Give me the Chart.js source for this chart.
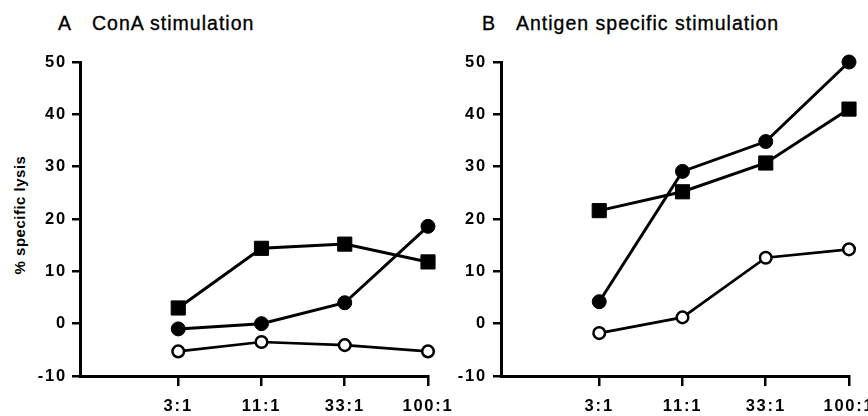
<!DOCTYPE html>
<html>
<head>
<meta charset="utf-8">
<script src="https://cdn.jsdelivr.net/npm/chart.js@4/dist/chart.umd.min.js"></script>
<style>
  body { margin: 0; background: #fff; width: 868px; height: 416px; position: relative; overflow: hidden;
         font-family: "Liberation Sans", Arial, sans-serif; }
  canvas { position: absolute; top: 0; }
  .ttl { position: absolute; top: 14px; font-size: 19.5px; line-height: 1; letter-spacing: 1px; color: #000;
         white-space: nowrap; -webkit-text-stroke: 0.35px #000; }
  .ytitle { position: absolute; left: 19px; top: 215px; font-size: 15px; font-weight: bold; letter-spacing: 0.5px;
            line-height: 1; white-space: nowrap; transform: translate(-50%, -50%) rotate(-90deg); }
</style>
</head>
<body>
<span class="ttl" style="left:58px">A</span>
<span class="ttl" style="left:92px">ConA stimulation</span>
<span class="ttl" style="left:482px">B</span>
<span class="ttl" style="left:516px">Antigen specific stimulation</span>
<span class="ytitle">% specific lysis</span>
<canvas id="chartConA" width="460" height="416" style="left:0"></canvas>
<canvas id="chartAntigen" width="428" height="416" style="left:440px"></canvas>
<script>
// effector:target ratios on the x axis
const ratios = ['3:1', '11:1', '33:1', '100:1'];
const yTickValues = [-10, 0, 10, 20, 30, 40, 50];

// A — ConA stimulation (% specific lysis)
const conaFilledCircle = [-1.0, 0.0, 4.0, 18.6];
const conaSquare       = [3.0, 14.4, 15.2, 11.8];
const conaOpenCircle   = [-5.3, -3.5, -4.1, -5.3];

// B — antigen specific stimulation
const agFilledCircle = [4.2, 29.1, 34.8, 50.0];
const agSquare       = [21.6, 25.2, 30.7, 41.0];
const agOpenCircle   = [-1.8, 1.2, 12.6, 14.2];

Chart.defaults.font.family = '"Liberation Sans", Arial, sans-serif';
Chart.defaults.color = '#000';

const tickFont = { size: 16.5, weight: 'bold' };

// the scanned tick labels are set wide
const tickSpacing = {
  id: 'tickSpacing',
  beforeUpdate(chart) { chart.ctx.letterSpacing = '1.8px'; },
  beforeDraw(chart) { chart.ctx.letterSpacing = '1.8px'; }
};

function toPoints(vals) {
  return vals.map((y, i) => ({ x: i + 1, y }));
}

function seriesSets(filled, square, open) {
  return [
    { data: toPoints(filled), borderColor: '#000', borderWidth: 3, pointStyle: 'circle', pointRadius: 7,
      pointBackgroundColor: '#000', pointBorderColor: '#000', pointBorderWidth: 1, tension: 0, clip: false },
    { data: toPoints(square), borderColor: '#000', borderWidth: 3, pointStyle: 'rect', pointRadius: 10,
      pointBackgroundColor: '#000', pointBorderColor: '#000', pointBorderWidth: 1, tension: 0, clip: false },
    { data: toPoints(open), borderColor: '#000', borderWidth: 2.7, pointStyle: 'circle', pointRadius: 5.8,
      pointBackgroundColor: '#fff', pointBorderColor: '#000', pointBorderWidth: 2.5, tension: 0, clip: false }
  ];
}

function panel(id, datasets, yWidth, padRight, yPad) {
  return new Chart(document.getElementById(id), {
    type: 'line',
    data: { datasets },
    plugins: [tickSpacing],
    options: {
      responsive: false,
      animation: false,
      layout: { padding: { top: 62, right: padRight, bottom: 0, left: 0 } },
      plugins: { legend: { display: false }, tooltip: { enabled: false } },
      scales: {
        x: {
          type: 'linear', min: -0.18, max: 4,
          afterBuildTicks: s => { s.ticks = ratios.map((r, i) => ({ value: i + 1 })); },
          afterFit: s => { s.height = 40; s.paddingLeft = 0; s.paddingRight = 0; },
          grid: { drawOnChartArea: false, tickLength: 10, color: '#000', lineWidth: 2.5 },
          border: { color: '#000', width: 3 },
          ticks: { padding: 11, font: tickFont, maxRotation: 0, autoSkip: false,
                   callback: v => ratios[v - 1] }
        },
        y: {
          min: -10, max: 50,
          afterBuildTicks: s => { s.ticks = yTickValues.map(v => ({ value: v })); },
          afterFit: s => { s.width = yWidth; s.paddingTop = 0; s.paddingBottom = 0; },
          grid: { drawOnChartArea: false, tickLength: 8, color: '#000', lineWidth: 2.5 },
          border: { color: '#000', width: 3 },
          ticks: { padding: yPad, font: tickFont }
        }
      }
    }
  });
}

panel('chartConA', seriesSets(conaFilledCircle, conaSquare, conaOpenCircle), 80, 32, 5);
panel('chartAntigen', seriesSets(agFilledCircle, agSquare, agOpenCircle), 61, 19, 6);
</script>
</body>
</html>
